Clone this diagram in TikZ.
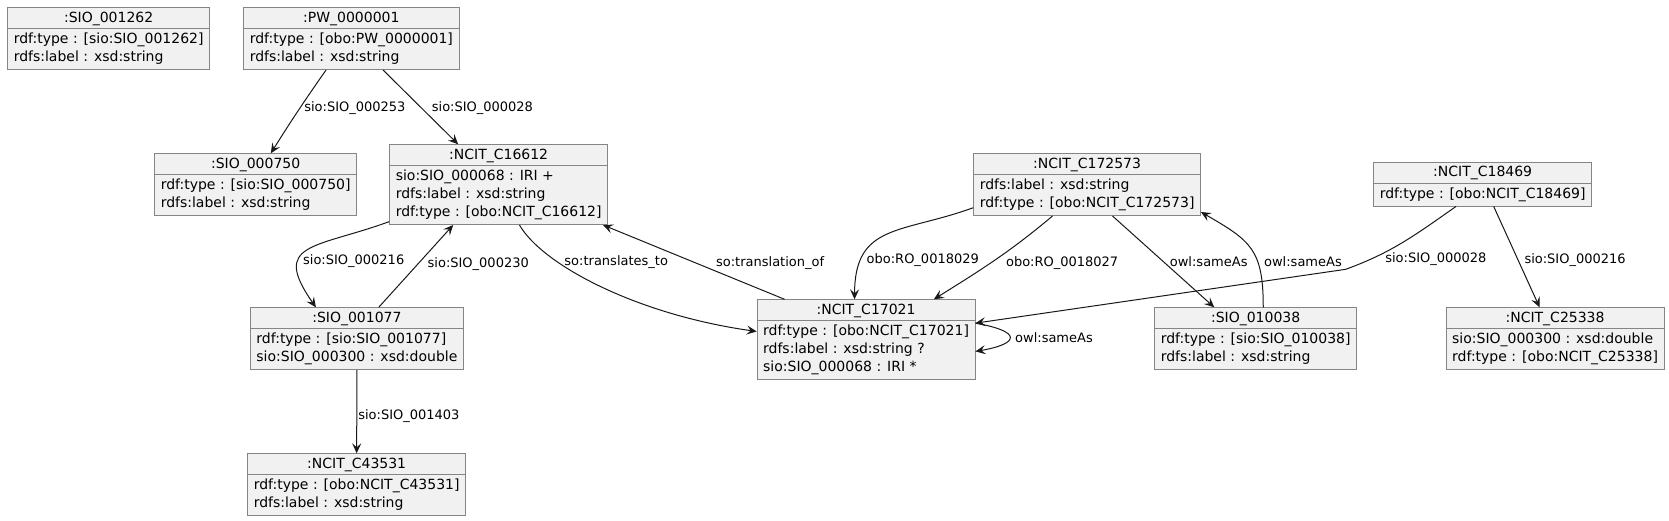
\documentclass[tikz,border=0pt]{standalone}
\usepackage{fontspec}
\setmainfont{DejaVu Sans}
\usetikzlibrary{arrows.meta, shapes.multipart}

\definecolor{objfill}{HTML}{F1F1F1}
\definecolor{objborder}{HTML}{858585}
\definecolor{objline}{HTML}{181818}

\newcommand{\attrs}[1]{\begin{tabular}{@{}l@{}}#1\end{tabular}}

\begin{document}
\begin{tikzpicture}[
    x = 1pt, y = -1pt,
    >={Stealth[length = 10pt, width = 9pt, inset = 4pt]},
    object/.style = {rectangle split,
      rectangle split parts = 2,
      draw = objborder, line width = 0.9pt,
      fill = objfill,
      anchor = north west,
      inner xsep = 6pt, inner ysep = 2pt,
      font = \fontsize{14}{18}\selectfont,
      execute at begin node = {\rule[-4pt]{0pt}{16pt}}},
    link/.style = {->, draw = objline, line width = 1pt},
    linklabel/.style = {font = \fontsize{13}{16}\selectfont, inner sep = 1pt}
    ]
  \useasboundingbox (0, 0) rectangle (1669, 520);

  \node at (7.3, 7.3) [object, name = S1262] {:SIO\_001262
    \nodepart{two}\attrs{rdf:type : [sio:SIO\_001262]\\ rdfs:label : xsd:string}};
  \node at (243.3, 7.3) [object, name = PW1] {:PW\_0000001
    \nodepart{two}\attrs{rdf:type : [obo:PW\_0000001]\\ rdfs:label : xsd:string}};
  \node at (154.3, 153.3) [object, name = S750] {:SIO\_000750
    \nodepart{two}\attrs{rdf:type : [sio:SIO\_000750]\\ rdfs:label : xsd:string}};
  \node at (389.3, 144.3) [object, name = C16612] {:NCIT\_C16612
    \nodepart{two}\attrs{sio:SIO\_000068 : IRI +\\ rdfs:label : xsd:string\\ rdf:type : [obo:NCIT\_C16612]}};
  \node at (250, 307.3) [object, name = S1077] {:SIO\_001077
    \nodepart{two}\attrs{rdf:type : [sio:SIO\_001077]\\ sio:SIO\_000300 : xsd:double}};
  \node at (247.3, 453.3) [object, name = C43531] {:NCIT\_C43531
    \nodepart{two}\attrs{rdf:type : [obo:NCIT\_C43531]\\ rdfs:label : xsd:string}};
  \node at (756.7, 299.3) [object, name = C17021] {:NCIT\_C17021
    \nodepart{two}\attrs{rdf:type : [obo:NCIT\_C17021]\\ rdfs:label : xsd:string ?\\ sio:SIO\_000068 : IRI *}};
  \node at (973.3, 153.3) [object, name = C172573] {:NCIT\_C172573
    \nodepart{two}\attrs{rdfs:label : xsd:string\\ rdf:type : [obo:NCIT\_C172573]}};
  \node at (1373.3, 161.7) [object, name = C18469] {:NCIT\_C18469
    \nodepart{two}\attrs{rdf:type : [obo:NCIT\_C18469]}};
  \node at (1154.3, 307.3) [object, name = S10038] {:SIO\_010038
    \nodepart{two}\attrs{rdf:type : [sio:SIO\_010038]\\ rdfs:label : xsd:string}};
  \node at (1445.7, 307.3) [object, name = C25338] {:NCIT\_C25338
    \nodepart{two}\attrs{sio:SIO\_000300 : xsd:double\\ rdf:type : [obo:NCIT\_C25338]}};

  \coordinate (bend) at (1345.7, 269.3);

  \draw [link] ([xshift = -25.3pt]PW1.south) to [out = -125, in = 58]
  node [linklabel, right, pos = 0.46, xshift = 3pt] {sio:SIO\_000253} ([xshift = 15.2pt]S750.north);
  \draw [link] ([xshift = 31.7pt]PW1.south) to
  node [linklabel, right, pos = 0.51, xshift = 9pt] {sio:SIO\_000028} ([xshift = -40.5pt]C16612.north);

  \draw [link] ([yshift = 3.4pt]C16612.south west) to [out = -160, in = 125, looseness = 1.8]
  node [linklabel, right, pos = 0.65, xshift = 3pt] {sio:SIO\_000216} ([xshift = -41pt]S1077.north);
  \draw [link] ([xshift = 21.8pt]S1077.north) to
  node [linklabel, right, pos = 0.53, xshift = 8pt] {sio:SIO\_000230} ([xshift = -45.5pt]C16612.south);
  \draw [link] (S1077.south) to
  node [linklabel, right, pos = 0.55] {sio:SIO\_001403} (C43531.north);

  \draw [link] ([xshift = 20.8pt]C16612.south) to [out = -60, in = 172, out looseness = 0.45, in looseness = 1.2]
  node [linklabel, right, pos = 0.3, xshift = 5pt] {so:translates\_to} ([yshift = 8.2pt]C17021.west);
  \draw [link] ([xshift = -81.5pt]C17021.north) to
  node [linklabel, right, pos = 0.49, xshift = 19pt] {so:translation\_of} ([xshift = -5pt]C16612.south east);

  \draw [link] ([yshift = 8.3pt]C172573.south west) to [out = -160, in = 90, looseness = 1.3]
  node [linklabel, right, pos = 0.78, xshift = 4pt] {obo:RO\_0018029} ([xshift = -11.5pt]C17021.north);
  \draw [link] ([xshift = -34.6pt]C172573.south) to [out = -140, in = 32]
  node [linklabel, right, pos = 0.54, xshift = 14pt] {obo:RO\_0018027} ([xshift = 67.8pt]C17021.north);
  \draw [link] ([xshift = 25.4pt]C172573.south) to
  node [linklabel, right, pos = 0.5, xshift = 5pt] {owl:sameAs} ([xshift = -41.4pt]S10038.north);
  \draw [link] ([xshift = 7.6pt]S10038.north) to [out = 90, in = -30, looseness = 1.3]
  node [linklabel, right, pos = 0.35, xshift = 5pt] {owl:sameAs} ([yshift = 4pt]C172573.south east);

  \draw [link] ([xshift = -26.6pt]C18469.south) to [out = -145, in = 20]
  node [linklabel, right, pos = 0.8, xshift = 12.6pt] {sio:SIO\_000028} (bend)
  -- ([yshift = 16.5pt]C17021.east);
  \draw [link] ([xshift = 11pt]C18469.south) to
  node [linklabel, right, pos = 0.53, xshift = 5pt] {sio:SIO\_000216} ([xshift = -15.5pt]C25338.north);

  \draw [link] ([yshift = 16.5pt]C17021.east) to [out = -10, in = 10, looseness = 4.2]
  node [linklabel, right, xshift = 4pt] {owl:sameAs} ([yshift = -11.8pt]C17021.east);
\end{tikzpicture}
\end{document}
